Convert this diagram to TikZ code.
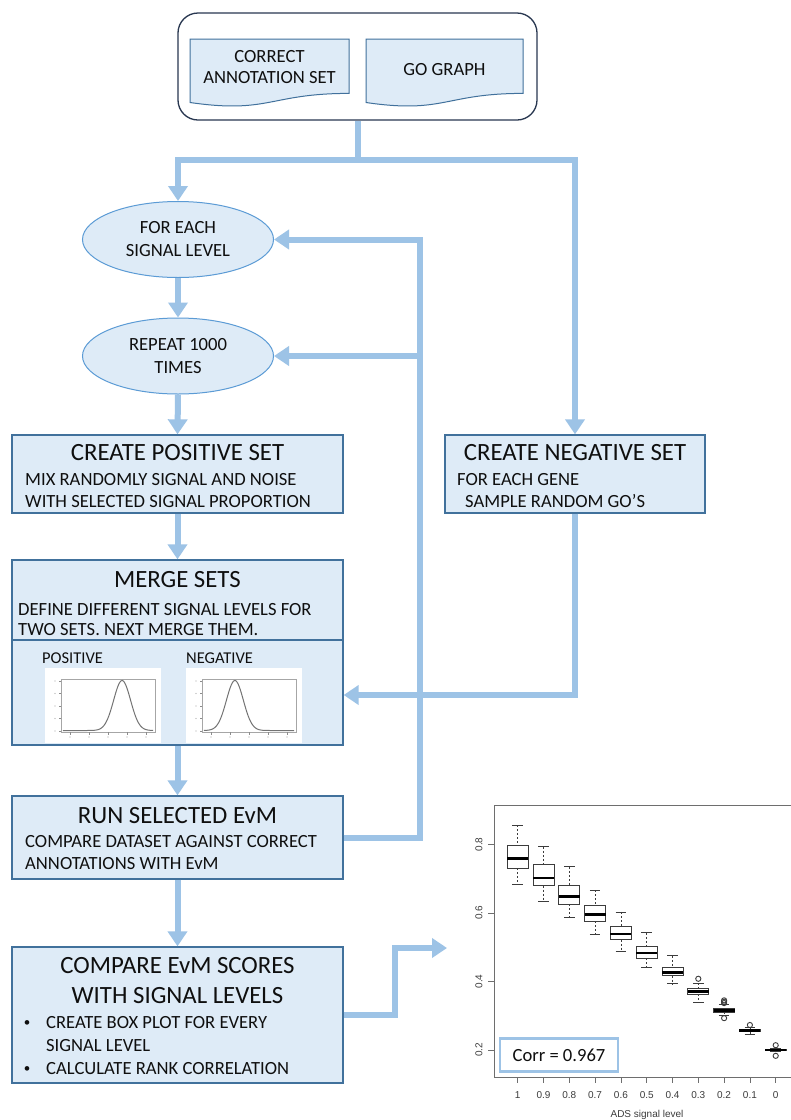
\documentclass[tikz,border=0pt]{standalone}
\usepackage{fontspec}
\setmainfont{Carlito}
\newfontfamily\plotfont{Liberation Sans}
\usetikzlibrary{arrows.meta,shapes.geometric}
\definecolor{connc}{RGB}{157,195,230}
\definecolor{boxfill}{RGB}{222,235,247}
\definecolor{boxline}{RGB}{65,113,156}
\definecolor{ellline}{RGB}{91,155,213}
\definecolor{topline}{RGB}{40,55,80}
\definecolor{plotgray}{RGB}{60,60,60}
\definecolor{framegray}{RGB}{110,110,110}
\definecolor{txt}{RGB}{15,15,15}
\tikzset{
  link/.style={draw=connc, line width=6pt, line join=miter},
  arr/.style={link, -{Triangle[width=19pt,length=15pt]}},
  procbox/.style={draw=boxline, fill=boxfill, line width=1.3pt, inner sep=0pt},
  docshape/.style={draw=boxline, fill=boxfill, line width=1pt},
  ell/.style={ellipse, draw=ellline, fill=boxfill, line width=1pt, minimum width=191pt, minimum height=76pt, inner sep=0pt, align=center, text=txt, font=\fontsize{18.6}{23}\selectfont},
  ttl/.style={anchor=base, inner sep=0pt, text=txt, font=\fontsize{24.8}{28}\selectfont},
  bdy/.style={anchor=base west, inner sep=0pt, text=txt, font=\fontsize{18.6}{22}\selectfont},
  bul/.style={anchor=base, inner sep=0pt, text=txt, font=\fontsize{13}{15}\selectfont},
  doctext/.style={anchor=base, inner sep=0pt, text=txt, font=\fontsize{18.6}{22}\selectfont},
  smalllab/.style={anchor=base west, inner sep=0pt, text=txt, font=\fontsize{16.5}{20}\selectfont},
  whisk/.style={draw=plotgray, line width=0.8pt, dash pattern=on 2pt off 2pt},
  staple/.style={draw=plotgray, line width=0.9pt},
  bpbox/.style={draw=plotgray, line width=1pt, fill=white},
  med/.style={draw=black, line width=2.6pt},
  outl/.style={draw=plotgray, line width=0.9pt},
  axlab/.style={inner sep=0pt, text=plotgray, font=\plotfont\fontsize{10}{12}\selectfont},
}
\begin{document}
\begin{tikzpicture}[x=1pt,y=-1pt]
\useasboundingbox (0,0) rectangle (791,1120);
\fill[white] (0,0) rectangle (791,1120);

% ---------- top container ----------
\node[draw=topline, line width=1.3pt, rounded corners=20pt, minimum width=359pt, minimum height=107pt, inner sep=0pt] (top) at (357.5,66.5) {};
\path[docshape] (190,39) -- (349,39) -- (349,93.4) .. controls (269.5,93.4) and (269.5,114) .. (190,102.5) -- cycle;
\path[docshape] (366,39) -- (523,39) -- (523,93.4) .. controls (444.5,93.4) and (444.5,114) .. (366,102.5) -- cycle;
\node[doctext] (docA1) at (269.5,62) {CORRECT};
\node[doctext] (docA2) at (269.5,83) {ANNOTATION SET};
\node[doctext] (docB) at (444.5,75) {GO GRAPH};

% ---------- ellipses ----------
\node[ell] (e1) at (178,239.5) {FOR EACH\\SIGNAL LEVEL};
\node[ell] (e2) at (178,356) {REPEAT 1000\\TIMES};

% ---------- positive set ----------
\node[procbox, minimum width=331pt, minimum height=78pt] (pos) at (177.5,474) {};
\node[ttl] (posT) at (177.5,460) {CREATE POSITIVE SET};
\node[bdy] (posL1) at (25,485) {MIX RANDOMLY SIGNAL AND NOISE};
\node[bdy] (posL2) at (25,507) {WITH SELECTED SIGNAL PROPORTION};

% ---------- negative set ----------
\node[procbox, minimum width=260pt, minimum height=78pt] (neg) at (575,474) {};
\node[ttl] (negT) at (575,460) {CREATE NEGATIVE SET};
\node[bdy] (negL1) at (457,485) {FOR EACH GENE};
\node[bdy] (negL2) at (465,507) {SAMPLE RANDOM GO’S};

% ---------- merge sets ----------
\node[procbox, minimum width=331pt, minimum height=185pt] (merge) at (177.5,652.5) {};
\draw[draw=boxline, line width=1.3pt] (merge.west |- 0,640) -- (merge.east |- 0,640);
\node[ttl] (mergeT) at (177.5,587) {MERGE SETS};
\node[bdy] (mergeL1) at (18,615) {DEFINE DIFFERENT SIGNAL LEVELS FOR};
\node[bdy] (mergeL2) at (18,635) {TWO SETS. NEXT MERGE THEM.};
\node[smalllab] (posLab) at (42,663) {POSITIVE};
\node[smalllab] (negLab) at (186,663) {NEGATIVE};
\fill[white] (45,668) rectangle (161,743);
\fill[white] (186,668) rectangle (302,743);
% small density plots
\foreach \L/\mu in {45/0.65, 186/0.35}{
  \pgfmathsetmacro\fl{\L+16}
  \pgfmathsetmacro\fr{\L+110}
  \draw[draw=black!35, line width=0.4pt] (\fl,679) rectangle (\fr,732);
  \foreach \k in {0,...,4}{
    \draw[draw=black!45, line width=0.4pt] (\fl,{731-\k*12.5}) -- ++(-2.5,0);
    \fill[black!35] (\fl-6,{731-\k*12.5}) circle (0.7);
    \draw[draw=black!45, line width=0.4pt] ({\fl+9+\k*19},732) -- ++(0,2.5);
    \fill[black!35] ({\fl+9+\k*19},737) circle (0.6);
  }
  \draw[draw=black!55, line width=1pt] plot[domain=0.02:0.98, samples=80, smooth] ({\fl+\x*(\fr-\fl)}, {730.5-50*exp(-((\x-\mu)^2)/(2*0.09*0.09))});
}

% ---------- run selected EvM ----------
\node[procbox, minimum width=331pt, minimum height=83pt] (run) at (177.5,837.5) {};
\node[ttl] (runT) at (177.5,823) {RUN SELECTED EvM};
\node[bdy] (runL1) at (25,847) {COMPARE DATASET AGAINST CORRECT};
\node[bdy] (runL2) at (25,869) {ANNOTATIONS WITH EvM};

% ---------- compare ----------
\node[procbox, minimum width=331pt, minimum height=136pt] (cmp) at (177.5,1015) {};
\node[ttl] (cmpT1) at (177.5,973) {COMPARE EvM SCORES};
\node[ttl] (cmpT2) at (177.5,1003) {WITH SIGNAL LEVELS};
\node[bul] (b1) at (27,1026) {•};
\node[bdy] (cmpL1) at (46,1028) {CREATE BOX PLOT FOR EVERY};
\node[bdy] (cmpL2) at (46,1051) {SIGNAL LEVEL};
\node[bul] (b2) at (27,1072) {•};
\node[bdy] (cmpL3) at (46,1074) {CALCULATE RANK CORRELATION};

% ---------- connectors ----------
\coordinate (split) at (357.5,160);
\coordinate (fbx) at (420,0);
\coordinate (mjy) at (0,695);
\coordinate (bendx) at (395,0);
\coordinate (ptip) at (447,948);
\draw[link] (top.south) -- (split);
\draw[arr] (split) -| (e1.north);
\draw[arr] (split) -| (neg.north);
\draw[arr] (e1.south) -- (e2.north);
\draw[arr] (e2.south) -- (pos.north);
\draw[arr] (pos.south) -- (merge.north);
\draw[arr] (merge.south) -- (run.north);
\draw[arr] (run.south) -- (cmp.north);
\draw[arr] (run.east) -- (run.east -| fbx) |- (e1.east);
\draw[arr] (e2.east -| fbx) -- (e2.east);
\draw[arr] (neg.south) |- (merge.east |- mjy);
\draw[arr] (cmp.east) -- (cmp.east -| bendx) |- (ptip);

% ---------- box plot ----------
\draw[draw=framegray, line width=0.9pt] (791,805) -- (494,805) -- (494,1077) -- (791,1077);
\foreach \v/\lab in {0.2/0.2, 0.4/0.4, 0.6/0.6, 0.8/0.8}{
  \pgfmathsetmacro\yy{1050-(\v-0.2)*342.5}
  \draw[draw=framegray, line width=0.8pt] (488,\yy) -- (494,\yy);
  \node[axlab, rotate=90] at (479,\yy) {\lab};
}
\foreach \i/\lab/\wt/\bt/\md/\bb/\wb in {
  0/1/.856/.797/.759/.730/.683,
  1/0.9/.793/.741/.702/.680/.634,
  2/0.8/.735/.680/.649/.626/.588,
  3/0.7/.667/.622/.595/.576/.537,
  4/0.6/.603/.561/.539/.522/.488,
  5/0.5/.542/.502/.483/.468/.441,
  6/0.4/.475/.442/.427/.417/.393,
  7/0.3/.395/.380/.371/.363/.339,
  8/0.2/.334/.320/.315/.310/.302,
  9/0.1/.266/.260/.257/.253/.246,
  10/0/.204/.201/.200/.198/.196}{
  \pgfmathsetmacro\xx{517.7+25.8*\i}
  \pgfmathsetmacro\ywt{1050-(\wt-0.2)*342.5}
  \pgfmathsetmacro\ybt{1050-(\bt-0.2)*342.5}
  \pgfmathsetmacro\ymd{1050-(\md-0.2)*342.5}
  \pgfmathsetmacro\ybb{1050-(\bb-0.2)*342.5}
  \pgfmathsetmacro\ywb{1050-(\wb-0.2)*342.5}
  \draw[whisk] (\xx,\ywt) -- (\xx,\ybt);
  \draw[whisk] (\xx,\ybb) -- (\xx,\ywb);
  \draw[staple] (\xx-5.25,\ywt) -- (\xx+5.25,\ywt);
  \draw[staple] (\xx-5.25,\ywb) -- (\xx+5.25,\ywb);
  \draw[bpbox] (\xx-10.5,\ybt) rectangle (\xx+10.5,\ybb);
  \draw[med] (\xx-10.5,\ymd) -- (\xx+10.5,\ymd);
  \draw[draw=framegray, line width=0.8pt] (\xx,1077) -- (\xx,1083);
  \node[axlab] at (\xx,1095) {\lab};
}
\foreach \i/\v in {7/.408, 8/.341, 8/.345, 8/.337, 8/.293, 9/.273, 10/.214, 10/.183}{
  \pgfmathsetmacro\xx{517.7+25.8*\i}
  \pgfmathsetmacro\yy{1050-(\v-0.2)*342.5}
  \draw[outl] (\xx,\yy) circle (2.6);
}
\node[axlab] (xlab) at (647,1115) {ADS signal level};
\node[draw=connc, line width=2.5pt, fill=white, minimum width=118pt, minimum height=33pt, inner sep=0pt, text=txt, font=\fontsize{18.6}{22}\selectfont] (corr) at (559,1055) {Corr = 0.967};
\end{tikzpicture}
\end{document}
